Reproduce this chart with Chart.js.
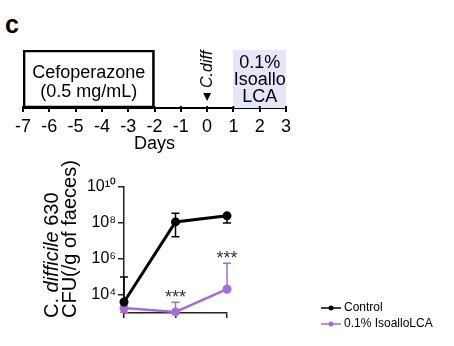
<!DOCTYPE html>
<html><head><meta charset="utf-8">
<script src="https://cdn.jsdelivr.net/npm/chart.js@4/dist/chart.umd.min.js"></script>
<style>
html,body{margin:0;padding:0;background:#fff;}
#wrap{position:relative;width:454px;height:346px;overflow:hidden;}
canvas{position:absolute;left:0;}
#panel{position:absolute;left:5px;top:10px;font:bold 25px "Liberation Sans",Arial,sans-serif;line-height:29px;color:#000;}
</style></head><body>
<div id="wrap">
<div id="panel">c</div>
<canvas id="tl" width="454" height="153" style="top:0"></canvas>
<canvas id="cfu" width="454" height="196" style="top:150px"></canvas>
</div>
<script>
const FONT = '"Liberation Sans", Arial, sans-serif';
const PURPLE = '#a56dd8';
const LAVENDER = '#e6e6fa';

// ---- Timeline (top) ----
const timelineDays = [-7, -6, -5, -4, -3, -2, -1, 0, 1, 2, 3];
const timelineTickLabels = ['-7', '-6', '-5', '-4', '-3', '-2', '-1', '0', '1', '2', '3'];
const cefoperazoneSpan = [-7, -2];
const isoalloSpan = [1, 3];
const cdiffDay = 0;

// ---- Colonisation (bottom) ----
const sampleDays = ['Day 0', 'Day 1', 'Day 2'];
const controlMean  = [4100, 1.15e8, 2.5e8];
const controlUpper = [1.0e5, 3.5e8, 3.0e8];
const controlLower = [null, 1.7e7, 1.0e8];
const isoMean  = [1900, 1150, 2.1e4];
const isoUpper = [null, 4000, 5.8e5];
const isoLower = [1100, null, null];
const yTickValues = [1e4, 1e6, 1e8, 1e10];
const significance = ['', '***', '***'];

const SUP = {'0':'\u2070','1':'\u00b9','2':'\u00b2','3':'\u00b3','4':'\u2074','5':'\u2075','6':'\u2076','7':'\u2077','8':'\u2078','9':'\u2079'};
const sup = n => String(n).split('').map(c => SUP[c]).join('');

const timelineText = {
  id: 'timelineText',
  afterDraw(chart) {
    const ctx = chart.ctx, x = chart.scales.x;
    ctx.save();
    ctx.fillStyle = '#000';
    ctx.textAlign = 'center';
    ctx.textBaseline = 'alphabetic';
    ctx.font = '18px ' + FONT;
    const cx = x.getPixelForValue((cefoperazoneSpan[0] + cefoperazoneSpan[1]) / 2);
    ctx.fillText('Cefoperazone', cx, 78);
    ctx.fillText('(0.5 mg/mL)', cx, 97);
    const ix = x.getPixelForValue((isoalloSpan[0] + isoalloSpan[1]) / 2);
    ctx.fillText('0.1%', ix, 68);
    ctx.fillText('Isoallo', ix, 85);
    ctx.fillText('LCA', ix, 102);
    const dx = x.getPixelForValue(cdiffDay);
    ctx.save();
    ctx.translate(dx, 88);
    ctx.rotate(-Math.PI / 2);
    ctx.textAlign = 'left';
    ctx.textBaseline = 'middle';
    ctx.font = 'italic 16px ' + FONT;
    ctx.fillText('C.diff', 0, 0);
    ctx.restore();
    ctx.beginPath();
    ctx.moveTo(dx - 4, 93); ctx.lineTo(dx + 4, 93); ctx.lineTo(dx, 101); ctx.closePath();
    ctx.fill();
    // short upward part of the tick marks
    const yb = chart.chartArea.bottom;
    ctx.strokeStyle = '#000';
    ctx.lineWidth = 2;
    timelineDays.forEach(d => {
      const px = x.getPixelForValue(d);
      ctx.beginPath(); ctx.moveTo(px, yb - 2); ctx.lineTo(px, yb); ctx.stroke();
    });
    ctx.restore();
  }
};

new Chart(document.getElementById('tl'), {
  type: 'bar',
  data: {
    labels: ['treatment'],
    datasets: [
      { label: '0.1% Isoallo LCA', data: [isoalloSpan], backgroundColor: LAVENDER, borderWidth: 0,
        grouped: false, barPercentage: 1, categoryPercentage: 1 },
      { label: 'Cefoperazone', data: [cefoperazoneSpan], backgroundColor: 'rgba(255,255,255,0)', borderColor: '#000',
        borderWidth: 2, borderSkipped: false, grouped: false, barPercentage: 1, categoryPercentage: 1 }
    ]
  },
  options: {
    indexAxis: 'y', responsive: false, animation: false, devicePixelRatio: 1, events: [],
    layout: { padding: { left: 23, right: 168, top: 50, bottom: 0 } },
    plugins: { legend: { display: false }, tooltip: { enabled: false } },
    scales: {
      x: {
        type: 'linear', min: -7, max: 3,
        afterBuildTicks: s => { s.ticks = timelineDays.map(v => ({ value: v })); },
        afterFit: s => { s.height = 45; },
        ticks: { callback: (v, i) => timelineTickLabels[i], font: { size: 18, family: FONT }, color: '#000',
                 padding: 4, maxRotation: 0, autoSkip: false },
        grid: { drawOnChartArea: false, drawTicks: true, tickLength: 4, color: '#000', lineWidth: 2 },
        border: { display: true, color: '#000', width: 2 },
        title: { display: true, text: 'Days', font: { size: 18, family: FONT, lineHeight: 1 }, color: '#000', padding: 0 }
      },
      y: { display: false }
    }
  },
  plugins: [timelineText]
});

const errorBars = {
  id: 'errorBars',
  beforeDatasetsDraw(chart) {
    const ctx = chart.ctx, y = chart.scales.y;
    chart.data.datasets.forEach((ds, di) => {
      const meta = chart.getDatasetMeta(di);
      ctx.save();
      ctx.strokeStyle = ds.borderColor;
      ctx.lineWidth = 1.5;
      meta.data.forEach((pt, i) => {
        [ds.upper[i], ds.lower[i]].forEach(v => {
          if (v == null) return;
          const py = y.getPixelForValue(v);
          ctx.beginPath();
          ctx.moveTo(pt.x, pt.y); ctx.lineTo(pt.x, py);
          ctx.moveTo(pt.x - 4, py); ctx.lineTo(pt.x + 4, py);
          ctx.stroke();
        });
      });
      ctx.restore();
    });
  }
};

const extras = {
  id: 'extras',
  afterDraw(chart) {
    const ctx = chart.ctx, y = chart.scales.y;
    ctx.save();
    // significance stars
    const iso = chart.data.datasets[1];
    const isoMeta = chart.getDatasetMeta(1);
    ctx.fillStyle = '#333';
    ctx.font = '18px ' + FONT;
    ctx.textAlign = 'center';
    ctx.textBaseline = 'alphabetic';
    iso.sig.forEach((s, i) => {
      if (!s) return;
      const ref = iso.upper[i] != null ? iso.upper[i] : iso.data[i];
      ctx.fillText(s, isoMeta.data[i].x, y.getPixelForValue(ref) + 1);
    });
    // y title
    ctx.fillStyle = '#000';
    const line1 = [['C. ', ''], ['difficile', 'italic '], [' 630', '']];
    ctx.save();
    ctx.translate(58, 168);
    ctx.rotate(-Math.PI / 2);
    ctx.textAlign = 'left';
    let off = 0;
    line1.forEach(([t, st]) => {
      ctx.font = st + '20px ' + FONT;
      ctx.fillText(t, off, 0);
      off += ctx.measureText(t).width;
    });
    ctx.restore();
    ctx.save();
    ctx.translate(76, 168);
    ctx.rotate(-Math.PI / 2);
    ctx.textAlign = 'left';
    ctx.font = '20px ' + FONT;
    ctx.fillText('CFU(/g of faeces)', 0, 0);
    ctx.restore();
    // legend
    chart.data.datasets.forEach((ds, i) => {
      const ly = 158 + i * 16;
      ctx.strokeStyle = ds.borderColor;
      ctx.fillStyle = ds.borderColor;
      ctx.lineWidth = 1.5;
      ctx.beginPath(); ctx.moveTo(321, ly); ctx.lineTo(341, ly); ctx.stroke();
      ctx.beginPath(); ctx.arc(331, ly, 2.5, 0, Math.PI * 2); ctx.fill();
      ctx.fillStyle = '#000';
      ctx.font = '12px ' + FONT;
      ctx.textAlign = 'left';
      ctx.textBaseline = 'middle';
      ctx.fillText(ds.label, 344, ly);
    });
    ctx.restore();
  }
};

new Chart(document.getElementById('cfu'), {
  type: 'line',
  data: {
    labels: sampleDays,
    datasets: [
      { label: 'Control', data: controlMean, upper: controlUpper, lower: controlLower,
        borderColor: '#000', backgroundColor: '#000', borderWidth: 3, pointRadius: 4.5, pointBorderWidth: 0, clip: false },
      { label: '0.1% IsoalloLCA', data: isoMean, upper: isoUpper, lower: isoLower, sig: significance,
        borderColor: PURPLE, backgroundColor: PURPLE, borderWidth: 2.5, pointRadius: 4.5, pointBorderWidth: 0, clip: false }
    ]
  },
  options: {
    responsive: false, animation: false, devicePixelRatio: 1, events: [],
    layout: { padding: { left: 0, top: 37, right: 227, bottom: 0 } },
    plugins: { legend: { display: false }, tooltip: { enabled: false } },
    scales: {
      x: {
        type: 'category', offset: false,
        afterFit: s => { s.height = 33; },
        ticks: { display: false },
        grid: { drawOnChartArea: false, drawTicks: true, tickLength: 5, color: '#222', lineWidth: 1.5 },
        border: { color: '#222', width: 1.5 }
      },
      y: {
        type: 'logarithmic', min: 1000, max: 1e10,
        afterBuildTicks: s => { s.ticks = yTickValues.map(v => ({ value: v })); },
        afterFit: s => { s.width = 124; },
        ticks: { callback: v => '10' + sup(Math.round(Math.log10(v))), font: { size: 16, family: FONT },
                 color: '#000', padding: 2, autoSkip: false },
        grid: { drawOnChartArea: false, drawTicks: true, tickLength: 6, color: '#222', lineWidth: 1.5 },
        border: { color: '#222', width: 1.5 }
      }
    }
  },
  plugins: [errorBars, extras]
});
</script>
</body></html>
